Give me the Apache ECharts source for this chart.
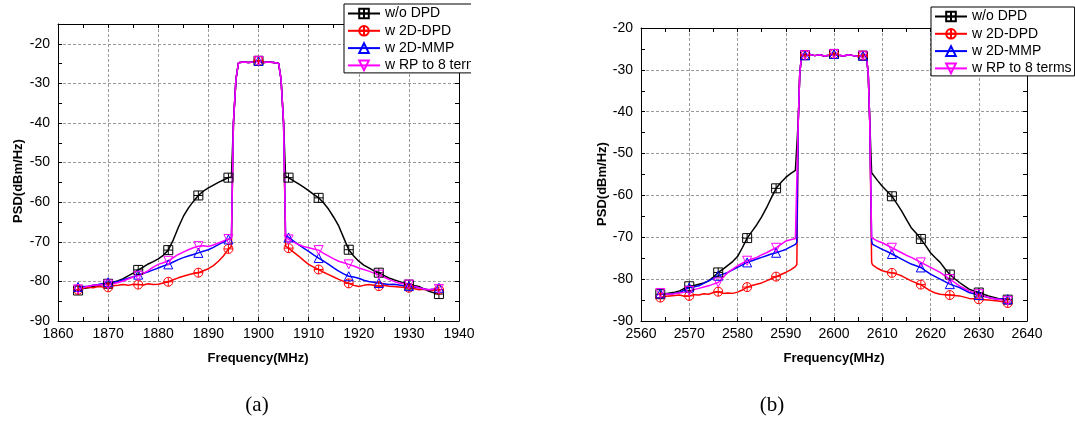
<!DOCTYPE html>
<html><head><meta charset="utf-8">
<script src="https://cdn.jsdelivr.net/npm/echarts@6/dist/echarts.min.js"></script>
<style>html,body{margin:0;padding:0;background:#fff}#c{width:1075px;height:423px}</style>
</head><body><div id="c"></div>
<script>
const seriesNames = ['w/o DPD', 'w 2D-DPD', 'w 2D-MMP', 'w RP to 8 terms'];

// ---- chart (a): 1900 MHz ----
const freqA = [1864,1865,1866,1867,1868,1869,1870,1871,1872,1873,1874,1875,1876,1877,1878,1879,1880,1881,1882,1883,1884,1885,1886,1887,1888,1889,1890,1891,1892,1893,1894,
  1894.6,1895,1895.5,1896,1897,1898,1899,1900,1901,1902,1903,1904,1904.5,1905,1905.4,
  1906,1907,1908,1909,1910,1911,1912,1913,1914,1915,1916,1917,1918,1919,1920,1921,1922,1923,1924,1925,1926,1927,1928,1929,1930,1931,1932,1933,1934,1935,1936];
const aNoDpd = [-82.3,-81.8,-81.6,-81.3,-81.0,-80.8,-80.6,-80.2,-79.8,-79.3,-78.6,-77.9,-77.1,-76.4,-75.6,-75.0,-74.3,-73.4,-72.1,-69.5,-66.4,-63.6,-61.5,-59.8,-58.3,-57.2,-56.4,-55.7,-55.0,-54.4,-53.8,
  -53.6,-40,-29,-24.8,-24.6,-24.7,-24.6,-24.3,-24.7,-24.6,-24.7,-24.9,-29,-40,-53.4,
  -53.8,-54.6,-55.4,-56.2,-57.1,-58.0,-58.9,-60.2,-61.8,-63.8,-66.0,-69.0,-72.0,-73.6,-74.9,-75.9,-76.6,-77.3,-77.8,-78.5,-79.1,-79.6,-80.0,-80.4,-80.8,-81.0,-81.3,-81.9,-82.5,-82.9,-83.2];
const a2dDpd = [-82.1,-81.7,-81.5,-81.6,-81.3,-81.4,-81.5,-81.1,-81.0,-80.8,-81.0,-80.7,-80.8,-80.9,-80.6,-80.8,-80.7,-80.4,-80.1,-79.6,-79.1,-78.7,-78.3,-78.0,-77.8,-77.3,-76.8,-76.0,-74.9,-73.6,-71.8,
  -71.2,-40,-29,-24.8,-24.6,-24.7,-24.6,-24.3,-24.7,-24.6,-24.7,-24.9,-29,-40,-71.1,
  -71.6,-72.6,-73.6,-74.7,-75.7,-76.4,-77.0,-77.7,-78.3,-78.9,-79.5,-80.0,-80.5,-81.0,-81.3,-81.0,-80.8,-81.0,-81.2,-81.0,-81.2,-81.3,-81.4,-81.5,-81.6,-81.8,-82.1,-82.0,-82.2,-82.3,-82.1];
const a2dMmp = [-81.4,-81.3,-81.2,-81.0,-80.8,-80.5,-80.2,-80.3,-80.0,-79.6,-79.2,-78.8,-78.3,-78.0,-77.6,-77.1,-76.6,-76.1,-75.7,-75.1,-74.5,-74.0,-73.6,-73.2,-72.8,-72.4,-72.0,-71.4,-70.7,-70.1,-69.4,
  -69.0,-40,-29,-24.8,-24.6,-24.7,-24.6,-24.3,-24.7,-24.6,-24.7,-24.9,-29,-40,-68.2,
  -68.9,-69.8,-70.7,-71.6,-72.4,-73.3,-74.1,-74.9,-75.7,-76.6,-77.4,-78.1,-78.7,-78.9,-79.2,-79.7,-80.0,-80.2,-80.4,-80.6,-80.8,-80.7,-80.9,-81.1,-81.2,-81.4,-81.6,-81.9,-82.1,-81.9,-81.6];
const aRp8 = [-82.0,-81.6,-81.2,-81.0,-80.9,-80.8,-80.8,-80.6,-80.3,-79.9,-79.4,-78.9,-78.6,-78.0,-77.3,-76.4,-75.7,-75.3,-74.8,-74.0,-73.2,-72.6,-72.0,-71.5,-71.1,-71.0,-71.2,-70.8,-70.3,-69.8,-69.3,
  -69.0,-40,-29,-24.8,-24.6,-24.7,-24.6,-24.3,-24.7,-24.6,-24.7,-24.9,-29,-40,-68.6,
  -69.4,-70.1,-70.7,-71.2,-71.5,-71.8,-72.1,-72.9,-73.6,-74.3,-74.9,-75.3,-75.7,-76.1,-76.6,-77.0,-77.4,-77.9,-78.3,-78.9,-79.5,-80.0,-80.4,-80.6,-80.8,-81.2,-81.6,-81.9,-82.1,-82.0,-81.9];

// ---- chart (b): 2600 MHz ----
const freqB = [2564,2565,2566,2567,2568,2569,2570,2571,2572,2573,2574,2575,2576,2577,2578,2579,2580,2581,2582,2583,2584,2585,2586,2587,2588,2589,2590,2591,2592,
  2592.3,2592.6,2592.9,2593.3,2594,2595,2596,2597,2598,2599,2600,2601,2602,2603,2604,2605,2606,2606.7,2607.1,2607.4,2607.8,
  2608,2609,2610,2611,2612,2613,2614,2615,2616,2617,2618,2619,2620,2621,2622,2623,2624,2625,2626,2627,2628,2629,2630,2631,2632,2633,2634,2635,2636];
const bNoDpd = [-83.6,-83.5,-83.3,-83.1,-82.8,-82.2,-81.7,-81.5,-81.2,-80.9,-80.4,-79.5,-78.4,-77.6,-76.7,-75.8,-74.6,-72.5,-70.2,-68.6,-67.0,-65.1,-63.0,-60.6,-58.3,-56.9,-55.7,-54.8,-54.0,
  -53.6,-42,-31,-26.3,-26.5,-26.3,-26.6,-26.4,-26.7,-26.5,-26.2,-26.5,-26.7,-26.4,-26.6,-26.8,-26.6,-26.4,-31,-42,-54.6,
  -55.0,-56.4,-57.8,-59.0,-60.2,-61.9,-63.7,-65.7,-67.7,-69.0,-70.4,-72.0,-73.7,-74.9,-76.0,-77.5,-78.9,-79.9,-80.8,-81.6,-82.4,-82.8,-83.2,-83.6,-84.0,-84.3,-84.6,-84.7,-84.9];
const b2dDpd = [-84.4,-84.1,-84.0,-83.9,-83.8,-84.1,-84.0,-83.7,-83.8,-83.5,-83.6,-83.2,-83.0,-83.4,-83.3,-83.4,-83.1,-82.6,-81.9,-81.5,-81.2,-80.9,-80.4,-79.9,-79.4,-78.9,-78.4,-77.8,-77.0,
  -76.5,-42,-31,-26.3,-26.5,-26.3,-26.6,-26.4,-26.7,-26.5,-26.2,-26.5,-26.7,-26.4,-26.6,-26.8,-26.6,-26.4,-31,-42,-76.0,
  -76.6,-77.4,-78.0,-78.3,-78.5,-78.8,-79.2,-79.8,-80.4,-80.9,-81.3,-82.1,-82.8,-83.3,-83.6,-83.7,-83.8,-83.9,-84.0,-84.3,-84.6,-84.7,-84.8,-84.9,-85.0,-85.1,-85.2,-85.4,-85.7];
const b2dMmp = [-83.4,-83.5,-83.6,-83.4,-83.2,-82.6,-82.0,-81.8,-81.6,-81.0,-80.4,-79.8,-79.2,-78.8,-78.4,-77.8,-77.2,-76.6,-76.0,-75.6,-75.2,-74.8,-74.4,-74.0,-73.7,-73.3,-72.9,-72.3,-71.7,
  -71.2,-42,-31,-26.3,-26.5,-26.3,-26.6,-26.4,-26.7,-26.5,-26.2,-26.5,-26.7,-26.4,-26.6,-26.8,-26.6,-26.4,-31,-42,-70.9,
  -71.7,-72.3,-72.9,-73.4,-74.0,-74.6,-75.2,-75.8,-76.4,-76.8,-77.2,-78.0,-78.8,-79.4,-80.0,-80.6,-81.2,-81.6,-82.0,-82.6,-83.2,-83.5,-83.8,-84.1,-84.4,-84.6,-84.8,-84.7,-84.8];
const bRp8 = [-83.3,-83.5,-83.6,-83.5,-83.3,-83.1,-82.8,-82.5,-82.2,-81.9,-81.6,-81.2,-80.8,-79.6,-78.4,-77.6,-76.8,-76.2,-75.6,-75.2,-74.8,-74.2,-73.7,-73.1,-72.5,-71.7,-70.9,-70.6,-70.3,
  -70.0,-42,-31,-26.3,-26.5,-26.3,-26.6,-26.4,-26.7,-26.5,-26.2,-26.5,-26.7,-26.4,-26.6,-26.8,-26.6,-26.4,-31,-42,-70.1,
  -70.5,-70.9,-71.3,-71.9,-72.5,-73.1,-73.7,-74.3,-74.8,-75.4,-76.0,-76.6,-77.2,-77.8,-78.4,-79.2,-80.0,-80.8,-81.6,-82.2,-82.8,-83.2,-83.6,-84.0,-84.4,-84.6,-84.8,-85.0,-85.2];

const xTicksA = [1860, 1940];
const xTicksB = [2560, 2640];
const yRangeA = [-90, -15];
const yRangeB = [-90, -20];

const FONT = '"Liberation Sans", Arial, sans-serif';
const COLORS = ['#000000', '#ff0000', '#0000ff', '#ff00ff'];
const SYMBOLS = [
  'path://M0,0H10V10H0Z M5,0V10 M0,5H10',
  'path://M10,5A5,5,0,1,1,0,5A5,5,0,1,1,10,5Z M5,0V10 M0,5H10',
  'path://M5,0L10,9H0Z',
  'path://M0,0H10L5,9Z'
];

function mkSeries(idx, freq, vals, xi, yi, start) {
  const color = COLORS[idx];
  return {
    name: seriesNames[idx], type: 'line', xAxisIndex: xi, yAxisIndex: yi,
    symbol: SYMBOLS[idx], symbolSize: 9, showSymbol: true, animation: false,
    lineStyle: { color: color, width: 1.5 },
    itemStyle: { color: 'rgba(255,255,255,0)', borderColor: color, borderWidth: 1 },
    emphasis: { disabled: true },
    data: freq.map((f, i) => (Number.isInteger(f) && (f - start) % 6 === 0)
      ? { value: [f, vals[i]] }
      : { value: [f, vals[i]], symbol: 'none' })
  };
}

const gridLine = { show: true, lineStyle: { color: ['#9a9a9a', 'rgba(0,0,0,0)'], type: [3, 2], width: 1 } };
function xAx(g, rng, pos) {
  return {
    gridIndex: g, type: 'value', min: rng[0], max: rng[1], interval: 5, position: pos,
    axisLine: { show: true, onZero: false, lineStyle: { color: '#000', width: 1 } },
    axisTick: { show: true, inside: true, length: 4, lineStyle: { color: '#000' } },
    axisLabel: { show: pos === 'bottom', formatter: v => (v % 10 === 0 ? String(v) : ''), color: '#000', fontSize: 14, fontFamily: FONT, margin: 6 },
    splitLine: pos === 'bottom' ? gridLine : { show: false }
  };
}
function yAx(g, rng, pos) {
  return {
    gridIndex: g, type: 'value', min: rng[0], max: rng[1], interval: 5, position: pos,
    axisLine: { show: true, onZero: false, lineStyle: { color: '#000', width: 1 } },
    axisTick: { show: true, inside: true, length: 4, lineStyle: { color: '#000' } },
    axisLabel: { show: pos === 'left', formatter: v => (v % 10 === 0 ? String(v) : ''), color: '#000', fontSize: 14, fontFamily: FONT, margin: 8 },
    splitLine: pos === 'left' ? gridLine : { show: false }
  };
}
function legend(left, top) {
  return {
    data: seriesNames, orient: 'vertical', left: left, top: top,
    itemWidth: 32, itemHeight: 12, itemGap: 2.3, padding: [2, 3, 0, 3],
    borderColor: '#000', borderWidth: 1, borderRadius: 0, backgroundColor: '#fff',
    selectedMode: false,
    textStyle: { fontSize: 14, fontFamily: FONT, color: '#000', lineHeight: 15 }
  };
}

const option = {
  animation: false,
  backgroundColor: '#fff',
  grid: [
    { left: 58, top: 24, width: 401, height: 297, containLabel: false },
    { left: 641, top: 28, width: 386, height: 293, containLabel: false }
  ],
  xAxis: [xAx(0, xTicksA, 'bottom'), xAx(0, xTicksA, 'top'), xAx(1, xTicksB, 'bottom'), xAx(1, xTicksB, 'top')],
  yAxis: [yAx(0, yRangeA, 'left'), yAx(0, yRangeA, 'right'), yAx(1, yRangeB, 'left'), yAx(1, yRangeB, 'right')],
  legend: [legend(344, 4), legend(931, 7)],
  series: [
    mkSeries(0, freqA, aNoDpd, 0, 0, 1864), mkSeries(1, freqA, a2dDpd, 0, 0, 1864),
    mkSeries(2, freqA, a2dMmp, 0, 0, 1864), mkSeries(3, freqA, aRp8, 0, 0, 1864),
    mkSeries(0, freqB, bNoDpd, 2, 2, 2564), mkSeries(1, freqB, b2dDpd, 2, 2, 2564),
    mkSeries(2, freqB, b2dMmp, 2, 2, 2564), mkSeries(3, freqB, bRp8, 2, 2, 2564)
  ],
  graphic: [
    { type: 'rect', z: 100, shape: { x: 471, y: 0, width: 90, height: 85 }, style: { fill: '#fff' } },
    { type: 'text', x: 18, y: 181, rotation: Math.PI / 2, style: { text: 'PSD(dBm/Hz)', font: 'bold 13px "Liberation Sans", Arial', align: 'center', verticalAlign: 'middle', fill: '#000' } },
    { type: 'text', x: 602, y: 184, rotation: Math.PI / 2, style: { text: 'PSD(dBm/Hz)', font: 'bold 13px "Liberation Sans", Arial', align: 'center', verticalAlign: 'middle', fill: '#000' } },
    { type: 'text', x: 258, y: 358, style: { text: 'Frequency(MHz)', font: 'bold 13px "Liberation Sans", Arial', align: 'center', verticalAlign: 'middle', fill: '#000' } },
    { type: 'text', x: 834, y: 358, style: { text: 'Frequency(MHz)', font: 'bold 13px "Liberation Sans", Arial', align: 'center', verticalAlign: 'middle', fill: '#000' } },
    { type: 'text', x: 257, y: 405, style: { text: '(a)', font: '21px "Liberation Serif", "Times New Roman", serif', align: 'center', verticalAlign: 'middle', fill: '#000' } },
    { type: 'text', x: 772, y: 405, style: { text: '(b)', font: '21px "Liberation Serif", "Times New Roman", serif', align: 'center', verticalAlign: 'middle', fill: '#000' } }
  ]
};
const chart = echarts.init(document.getElementById('c'), null, { renderer: 'canvas' });
chart.setOption(option);
</script></body></html>
